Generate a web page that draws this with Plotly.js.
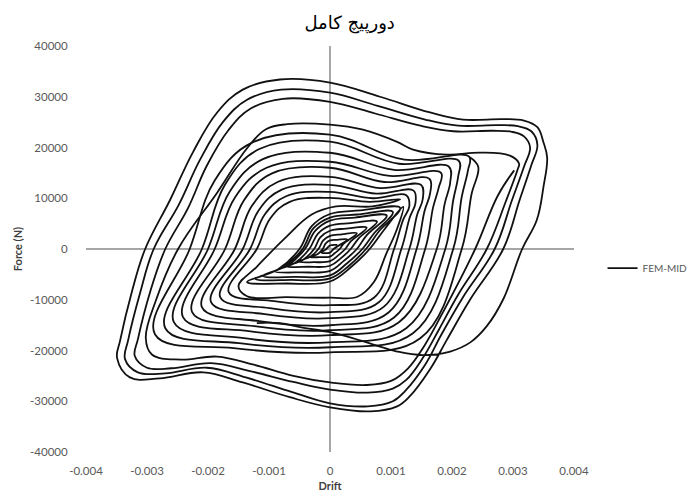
<!DOCTYPE html>
<html>
<head>
<meta charset="utf-8">
<script src="https://cdn.plot.ly/plotly-3.0.1.min.js"></script>
<style>html,body{margin:0;padding:0;background:#fff;}</style>
</head>
<body>
<div id="chart" style="width:691px;height:497px;"></div>
<script>
// ---- chart texts ----
const chartTitle = 'دورپیچ کامل';
const xTitle = 'Drift';
const yTitle = 'Force (N)';
const seriesName = 'FEM-MID';
const xTickVals = [-0.004, -0.003, -0.002, -0.001, 0, 0.001, 0.002, 0.003, 0.004];
const xTickText = ['-0.004', '-0.003', '-0.002', '-0.001', '0', '0.001', '0.002', '0.003', '0.004'];
const yTickVals = [-40000, -30000, -20000, -10000, 0, 10000, 20000, 30000, 40000];
const yTickText = ['-40000', '-30000', '-20000', '-10000', '0', '10000', '20000', '30000', '40000'];

// ---- small cycles (drift, force N) ----
const c0Drift = [0.00012, 0.0, -0.00006, -0.00014, 0.0, 0.00006];
const c0Force = [800, 700, 0, -700, -700, 0];
const c1Drift = [0.00028, 0.00012, 0, -0.00007, -0.00012, -0.0002, -0.00033, -0.00017, 0, 0.00008, 0.00016, 0.00022];
const c1Force = [1900, 1800, 1700, 1100, 0, -1000, -1600, -1600, -1500, -800, 0, 1000];
const c2Drift = [0.00044, 0.00019, 0, -0.00011, -0.00019, -0.00032, -0.00052, -0.00027, 0, 0.00013, 0.00025, 0.00034];
const c2Force = [3100, 2900, 2600, 1700, 0, -1500, -2500, -2600, -2400, -1300, 0, 1500];
const c3Drift = [0.0006, 0.00026, 0, -0.00016, -0.00026, -0.00044, -0.00071, -0.00036, 0, 0.00018, 0.00034, 0.00047];
const c3Force = [4200, 4000, 3600, 2300, 0, -2100, -3400, -3500, -3300, -1800, 0, 2100];
const c4Drift = [0.00077, 0.00034, 0, -0.0002, -0.00034, -0.00057, -0.00091, -0.00047, 0, 0.00023, 0.00044, 0.0006];
const c4Force = [5400, 5100, 4600, 3000, 0, -2700, -4400, -4600, -4300, -2300, 0, 2700];
const c5Drift = [0.00093, 0.00041, 0, -0.00024, -0.00041, -0.00069, -0.0011, -0.00057, 0, 0.00028, 0.00053, 0.00073];
const c5Force = [6600, 6200, 5600, 3600, 0, -3200, -5300, -5500, -5200, -2800, 0, 3200];
const c6Drift = [0.00103, 0.00045, 0, -0.00027, -0.00045, -0.00077, -0.00122, -0.00063, 0, 0.00032, 0.00059, 0.00081];
const c6Force = [7300, 6800, 6200, 4100, 0, -3600, -5900, -6100, -5800, -3200, 0, 3600];
const c7Drift = [0.00115, 0.0005, 0, -0.0003, -0.0005, -0.00085, -0.00136, -0.0007, 0, 0.00035, 0.00065, 0.0009];
const c7Force = [8100, 7600, 6900, 4500, 0, -4000, -6500, -6800, -6400, -3500, 0, 4000];

// ---- medium cycles ----
const m10Drift = [0.0012, 0.0011, 0.00092, 0.00072, 0.00045, 0, -0.0007, -0.00136, -0.0015, -0.0012, -0.00075, -0.0003, 0.0001, 0.0007];
const m10Force = [8300, 4000, -1000, -6500, -9400, -9600, -9500, -9300, -7300, -3500, 2000, 6800, 8400, 8400];
const m9Drift = [0.00115, 0.00065, 0, -0.00066, -0.00098, -0.0012, -0.00166, -0.00091, 0, 0.00072, 0.00105, 0.0012, 0.0013];
const m9Force = [9800, 9300, 10080, 9300, 6000, 0, -8500, -10270, -11070, -9600, 0, 5800, 8400];
const m8Drift = [0.00125, 0.0007, 0, -0.00072, -0.00107, -0.00131, -0.0018, -0.00099, 0, 0.0008, 0.00117, 0.00131, 0.0014];
const m8Force = [10600, 10000, 11260, 10400, 6800, 0, -9480, -11650, -12450, -10500, 0, 6300, 9000];
const m7Drift = [0.00137, 0.00076, 0, -0.00079, -0.00117, -0.00143, -0.00195, -0.00107, 0, 0.00088, 0.0013, 0.00143, 0.00152];
const m7Force = [11500, 10900, 12650, 11700, 7600, 0, -10470, -12830, -13630, -11400, 0, 6800, 9800];
const m6Drift = [0.00149, 0.00082, 0, -0.00086, -0.00128, -0.00156, -0.0021, -0.00116, 0, 0.00096, 0.00142, 0.00155, 0.00164];
const m6Force = [12650, 12000, 14230, 13200, 8500, 0, -11460, -14220, -15020, -12500, 0, 7500, 10900];
const m5Drift = [0.00163, 0.00089, 0, -0.00095, -0.00141, -0.00172, -0.00226, -0.00124, 0, 0.00105, 0.00156, 0.00169, 0.00178];
const m5Force = [13830, 13200, 16010, 14900, 9600, 0, -12450, -15210, -16010, -13500, 0, 8200, 12000];
const m4Drift = [0.00182, 0.00098, 0, -0.00104, -0.00155, -0.00189, -0.00241, -0.00133, 0, 0.00113, 0.00175, 0.00188, 0.00197];
const m4Force = [15020, 14400, 17190, 16000, 10300, 0, -13440, -16190, -16990, -14420, 0, 8900, 13100];
const m3Drift = [0.00195, 0.00105, 0, -0.0011, -0.00164, -0.002, -0.00256, -0.00141, 0, 0.00125, 0.00189, 0.00202, 0.0021];
const m3Force = [16210, 15600, 18970, 17700, 11400, 0, -14420, -17580, -18380, -15610, 0, 9600, 14200];
const m2Drift = [0.00211, 0.00113, 0, -0.00116, -0.00172, -0.0021, -0.0027, -0.00149, 0, 0.00136, 0.00202, 0.00216, 0.00226];
const m2Force = [17390, 16800, 21140, 19700, 12700, 0, -15610, -18560, -19360, -16600, 0, 10300, 15400];
const m1Drift = [0.00228, 0.00122, 0, -0.00127, -0.00189, -0.0023, -0.00287, -0.00158, 0, 0.00148, 0.00216, 0.00232, 0.00243, 0.00228];
const m1Force = [18180, 17600, 22530, 21000, 13500, 0, -16800, -19550, -20350, -17590, 0, 10800, 16200, 18180];

// ---- jump to large cycles ----
const jDrift = [-0.0012, -0.00082, -0.00049, 0, 0.00033, 0.0007, 0.0011, 0.00152, 0.00197, 0.0023, 0.00257, 0.00284, 0.00315, 0.00339, 0.0035, 0.00356];
const jForce = [-14600, -14600, -15400, -16400, -17400, -18800, -20200, -20900, -20200, -18400, -15200, -9900, 0, 5700, 12300, 18000];

// ---- large cycles ----
const o1Drift = [0.0035, 0.0034, 0.00318, 0.00284, 0.00218, 0.00164, 0.00082, 0, -0.00082, -0.00143, -0.00185, -0.00225, -0.00262, -0.00303, -0.00325, -0.00344, -0.00349, -0.00328, -0.00279, -0.00208, -0.00143, -0.00066, 0, 0.00066, 0.0011, 0.00131, 0.00164, 0.00192, 0.0023, 0.00284, 0.00311, 0.0033];
const o1Force = [21000, 24000, 25300, 25600, 25500, 26900, 30000, 32800, 33400, 31400, 26900, 19000, 9700, 0, -8500, -18000, -21500, -25300, -25500, -24300, -26300, -29200, -31200, -32000, -31000, -29000, -23700, -17800, -9900, 0, 9700, 16500];
const o2Drift = [0.0034, 0.0033, 0.00308, 0.00275, 0.0021, 0.00156, 0.00078, 0, -0.0008, -0.00136, -0.00175, -0.00213, -0.00248, -0.00289, -0.00311, -0.00331, -0.00336, -0.00315, -0.0027, -0.00202, -0.00138, -0.00062, 0, 0.00062, 0.00103, 0.00123, 0.00156, 0.00182, 0.00218, 0.0027, 0.00298, 0.00318];
const o2Force = [20500, 23200, 24200, 24400, 24300, 25500, 28200, 30800, 31400, 29400, 25100, 17600, 8700, 0, -8500, -18000, -21700, -24300, -24500, -23400, -25300, -28200, -30400, -31000, -30000, -28000, -22800, -17000, -9500, 0, 9500, 16200];
const o3Drift = [0.00328, 0.00318, 0.00298, 0.00266, 0.00202, 0.00148, 0.00074, 0, -0.00077, -0.0013, -0.00166, -0.00202, -0.00233, -0.0027, -0.00295, -0.00315, -0.0032, -0.003, -0.0026, -0.00195, -0.00133, -0.0006, 0, 0.00062, 0.00103, 0.00125, 0.00152, 0.00178, 0.0021, 0.00257, 0.00288, 0.00308];
const o3Force = [20000, 22200, 23100, 23300, 23200, 24300, 26700, 29000, 29600, 27700, 23500, 16400, 8000, 0, -8500, -17800, -21100, -23400, -23500, -22500, -24000, -26200, -27700, -28300, -27500, -25800, -21500, -16000, -9000, 0, 9300, 15800];
const o4Drift = [0.0031, 0.00295, 0.00246, 0.00192, 0.00136, 0.0011, 0.00054, 0, -0.0007, -0.00105, -0.00135, -0.00185, -0.00249, -0.00285, -0.00302, -0.00292, -0.00245, -0.00185, -0.00125, -0.0006, 0, 0.0006, 0.001, 0.00128, 0.00155, 0.00185, 0.00238, 0.00275, 0.00302];
const o4Force = [16800, 18400, 19000, 18600, 19600, 21100, 23500, 24500, 24600, 23600, 20000, 11100, 0, -10000, -17500, -20800, -21800, -21200, -22800, -25000, -26300, -26800, -26000, -23500, -19000, -12500, 0, 10500, 15500];

// ---- assemble one continuous record (gap where the jump branch starts) ----
const drift = [].concat(c0Drift, c1Drift, c2Drift, c3Drift, c4Drift, c5Drift, c6Drift, c7Drift,
  m10Drift, m9Drift, m8Drift, m7Drift, m6Drift, m5Drift, m4Drift, m3Drift, m2Drift, m1Drift,
  [null], jDrift, o1Drift, o2Drift, o3Drift, o4Drift);
const force = [].concat(c0Force, c1Force, c2Force, c3Force, c4Force, c5Force, c6Force, c7Force,
  m10Force, m9Force, m8Force, m7Force, m6Force, m5Force, m4Force, m3Force, m2Force, m1Force,
  [null], jForce, o1Force, o2Force, o3Force, o4Force);

const trace = {
  x: drift, y: force, type: 'scatter', mode: 'lines', name: seriesName,
  connectgaps: false,
  line: {color: '#111111', width: 1.8, shape: 'spline', smoothing: 1.1}
};

const tickFont = {family: 'Lato, "Liberation Sans", sans-serif', size: 11.5, color: '#595959'};

const layout = {
  width: 691, height: 497,
  margin: {l: 86, r: 117, t: 46, b: 45},
  paper_bgcolor: '#ffffff', plot_bgcolor: '#ffffff',
  showlegend: true,
  title: {text: chartTitle, font: {family: '"DejaVu Sans", sans-serif', size: 18, color: '#000'},
          x: 0.506, xanchor: 'center', y: 0.955, yanchor: 'middle'},
  xaxis: {
    range: [-0.004, 0.004], tickvals: xTickVals, ticktext: xTickText,
    showgrid: false, showline: false, zeroline: true, zerolinecolor: '#a6a6a6', zerolinewidth: 1.3,
    ticks: 'outside', ticklen: 8, tickcolor: 'rgba(0,0,0,0)', tickfont: tickFont,
    title: {text: '<b>' + xTitle + '</b>', font: {family: 'Lato, sans-serif', size: 11, color: '#404040'}, standoff: 6}
  },
  yaxis: {
    range: [-40000, 40000], tickvals: yTickVals, ticktext: yTickText,
    showgrid: false, showline: false, zeroline: true, zerolinecolor: '#a6a6a6', zerolinewidth: 1.3,
    ticks: 'outside', ticklen: 15, tickcolor: 'rgba(0,0,0,0)', tickfont: tickFont,
    title: {text: '<b>' + yTitle + '</b>', font: {family: 'Lato, sans-serif', size: 11, color: '#404040'}, standoff: 5}
  },
  legend: {xref: 'container', x: 0.872, xanchor: 'left', yref: 'paper', y: 0.453, yanchor: 'middle', itemwidth: 30,
           bgcolor: 'rgba(0,0,0,0)', font: {family: 'Lato, sans-serif', size: 10, color: '#595959'}}
};

Plotly.newPlot('chart', [trace], layout, {displayModeBar: false, staticPlot: true});
</script>
</body>
</html>
